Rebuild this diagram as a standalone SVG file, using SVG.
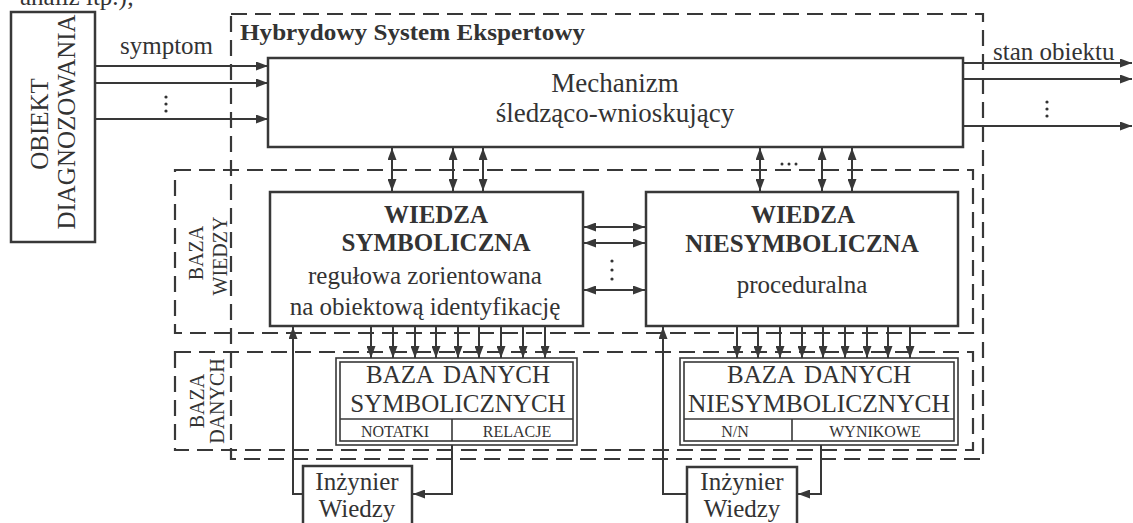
<svg xmlns="http://www.w3.org/2000/svg" width="1133" height="523" viewBox="0 0 1133 523">
<style>
text{font-family:"Liberation Serif","Times New Roman",serif;fill:#333}
.ln{stroke:#383838;stroke-width:2;fill:none}
.dash{stroke:#383838;stroke-width:2.2;fill:none;stroke-dasharray:16 8}
.box{fill:#fff;stroke:#383838;stroke-width:2.5}
.db{fill:none;stroke:#383838;stroke-width:1.6}
.dot{fill:#333}
.c{text-anchor:middle}
.t25{font-size:25px}
.b25{font-size:25px;font-weight:bold}
.s16{font-size:16px}
.r20{font-size:20px}
</style>
<defs>
<marker id="ah" viewBox="0 0 12 9" markerWidth="12" markerHeight="9" refX="12" refY="4.5" orient="auto-start-reverse" markerUnits="userSpaceOnUse">
<path d="M0,0 L12,4.5 L0,9 Z" fill="#383838"/>
</marker>
</defs>
<rect width="1133" height="523" fill="#fff"/>
<text x="20" y="5" class="t25">analiz itp.);</text>

<g id="containers">
<rect class="dash" x="231" y="14" width="752" height="445"/>
<rect class="dash" x="175" y="170" width="798" height="163"/>
<rect class="dash" x="175" y="352" width="798" height="98"/>
<text x="240" y="40" style="font-size:23px;font-weight:bold" textLength="345" lengthAdjust="spacingAndGlyphs">Hybrydowy System Ekspertowy</text>
<text class="r20 c" transform="translate(203,253) rotate(-90)">BAZA</text>
<text class="r20 c" transform="translate(227,256) rotate(-90)">WIEDZY</text>
<text class="r20 c" transform="translate(204,401) rotate(-90)">BAZA</text>
<text class="r20 c" transform="translate(224,401) rotate(-90)">DANYCH</text>
</g>

<g id="obiekt">
<rect class="box" x="11" y="12" width="84" height="230"/>
<text class="t25 c" transform="translate(48,124) rotate(-90)">OBIEKT</text>
<text class="t25 c" transform="translate(75,122) rotate(-90)">DIAGNOZOWANIA</text>
</g>

<g id="mechanizm">
<rect class="box" x="268" y="58" width="695" height="89"/>
<text x="615" y="92" class="c" style="font-size:27px">Mechanizm</text>
<text x="615" y="122" class="c" style="font-size:27px">śledząco-wnioskujący</text>
</g>

<g id="wiedza-symboliczna">
<rect class="box" x="270" y="192" width="313" height="134"/>
<text x="436" y="223" class="b25 c">WIEDZA</text>
<text x="436" y="251" class="b25 c">SYMBOLICZNA</text>
<text x="425" y="284" class="t25 c">regułowa zorientowana</text>
<text x="425" y="315" class="t25 c">na obiektową identyfikację</text>
</g>

<g id="wiedza-niesymboliczna">
<rect class="box" x="646" y="192" width="312" height="134"/>
<text x="803" y="223" class="b25 c">WIEDZA</text>
<text x="802" y="252" class="b25 c">NIESYMBOLICZNA</text>
<text x="802" y="293" class="t25 c">proceduralna</text>
</g>

<g id="baza-danych-symbolicznych">
<rect x="336" y="358" width="241" height="87" fill="#fff" stroke="#383838" stroke-width="1.6"/>
<rect class="db" x="340" y="362" width="233" height="79"/>
<line class="db" x1="340" y1="419" x2="573" y2="419"/>
<line class="db" x1="452" y1="419" x2="452" y2="441"/>
<text x="458" y="383" class="t25 c" style="word-spacing:4px">BAZA DANYCH</text>
<text x="458" y="412" class="t25 c">SYMBOLICZNYCH</text>
<text x="395" y="437" class="s16 c">NOTATKI</text>
<text x="517" y="437" class="s16 c">RELACJE</text>
</g>

<g id="baza-danych-niesymbolicznych">
<rect x="680" y="358" width="278" height="87" fill="#fff" stroke="#383838" stroke-width="1.6"/>
<rect class="db" x="684" y="362" width="270" height="79"/>
<line class="db" x1="684" y1="419" x2="954" y2="419"/>
<line class="db" x1="792" y1="419" x2="792" y2="441"/>
<text x="819" y="383" class="t25 c" style="word-spacing:4px">BAZA DANYCH</text>
<text x="819" y="412" class="c" style="font-size:25.5px">NIESYMBOLICZNYCH</text>
<text x="735" y="437" class="s16 c">N/N</text>
<text x="875" y="437" class="s16 c">WYNIKOWE</text>
</g>

<g id="inzynier-1">
<rect class="box" x="303" y="466" width="109" height="70"/>
<text x="357" y="490" class="t25 c">Inżynier</text>
<text x="357" y="517" class="t25 c">Wiedzy</text>
</g>

<g id="inzynier-2">
<rect class="box" x="687" y="467" width="110" height="70"/>
<text x="742" y="490" class="t25 c">Inżynier</text>
<text x="742" y="517" class="t25 c">Wiedzy</text>
</g>

<g id="connectors">
<line class="ln" x1="95" y1="66" x2="268" y2="66" marker-end="url(#ah)"/>
<line class="ln" x1="95" y1="83" x2="268" y2="83" marker-end="url(#ah)"/>
<line class="ln" x1="95" y1="119" x2="268" y2="119" marker-end="url(#ah)"/>
<text x="120" y="54" class="t25">symptom</text>
<circle class="dot" cx="166" cy="97" r="1.6"/>
<circle class="dot" cx="166" cy="104" r="1.6"/>
<circle class="dot" cx="166" cy="111" r="1.6"/>

<line class="ln" x1="963" y1="63" x2="1132" y2="63" marker-end="url(#ah)"/>
<line class="ln" x1="963" y1="79" x2="1132" y2="79" marker-end="url(#ah)"/>
<line class="ln" x1="963" y1="126" x2="1132" y2="126" marker-end="url(#ah)"/>
<text x="993" y="60" class="t25">stan obiektu</text>
<circle class="dot" cx="1047" cy="102" r="1.6"/>
<circle class="dot" cx="1047" cy="109" r="1.6"/>
<circle class="dot" cx="1047" cy="116" r="1.6"/>

<line class="ln" x1="392" y1="148" x2="392" y2="191" marker-start="url(#ah)" marker-end="url(#ah)"/>
<line class="ln" x1="453" y1="148" x2="453" y2="191" marker-start="url(#ah)" marker-end="url(#ah)"/>
<line class="ln" x1="483" y1="148" x2="483" y2="191" marker-start="url(#ah)" marker-end="url(#ah)"/>
<line class="ln" x1="760" y1="148" x2="760" y2="191" marker-start="url(#ah)" marker-end="url(#ah)"/>
<line class="ln" x1="822" y1="148" x2="822" y2="191" marker-start="url(#ah)" marker-end="url(#ah)"/>
<line class="ln" x1="852" y1="148" x2="852" y2="191" marker-start="url(#ah)" marker-end="url(#ah)"/>
<circle class="dot" cx="782" cy="164" r="1.5"/>
<circle class="dot" cx="789" cy="164" r="1.5"/>
<circle class="dot" cx="796" cy="164" r="1.5"/>

<line class="ln" x1="584" y1="227" x2="645" y2="227" marker-start="url(#ah)" marker-end="url(#ah)"/>
<line class="ln" x1="584" y1="243" x2="645" y2="243" marker-start="url(#ah)" marker-end="url(#ah)"/>
<line class="ln" x1="584" y1="290" x2="645" y2="290" marker-start="url(#ah)" marker-end="url(#ah)"/>
<circle class="dot" cx="612" cy="261" r="1.6"/>
<circle class="dot" cx="612" cy="270" r="1.6"/>
<circle class="dot" cx="612" cy="279" r="1.6"/>

<line class="ln" x1="371" y1="327" x2="371" y2="358" marker-end="url(#ah)"/>
<line class="ln" x1="393" y1="327" x2="393" y2="358" marker-end="url(#ah)"/>
<line class="ln" x1="415" y1="327" x2="415" y2="358" marker-end="url(#ah)"/>
<line class="ln" x1="436" y1="327" x2="436" y2="358" marker-end="url(#ah)"/>
<line class="ln" x1="458" y1="327" x2="458" y2="358" marker-end="url(#ah)"/>
<line class="ln" x1="479" y1="327" x2="479" y2="358" marker-end="url(#ah)"/>
<line class="ln" x1="501" y1="327" x2="501" y2="358" marker-end="url(#ah)"/>
<line class="ln" x1="523" y1="327" x2="523" y2="358" marker-end="url(#ah)"/>
<line class="ln" x1="545" y1="327" x2="545" y2="358" marker-end="url(#ah)"/>

<line class="ln" x1="737" y1="327" x2="737" y2="358" marker-end="url(#ah)"/>
<line class="ln" x1="758" y1="327" x2="758" y2="358" marker-end="url(#ah)"/>
<line class="ln" x1="780" y1="327" x2="780" y2="358" marker-end="url(#ah)"/>
<line class="ln" x1="802" y1="327" x2="802" y2="358" marker-end="url(#ah)"/>
<line class="ln" x1="823" y1="327" x2="823" y2="358" marker-end="url(#ah)"/>
<line class="ln" x1="845" y1="327" x2="845" y2="358" marker-end="url(#ah)"/>
<line class="ln" x1="867" y1="327" x2="867" y2="358" marker-end="url(#ah)"/>
<line class="ln" x1="888" y1="327" x2="888" y2="358" marker-end="url(#ah)"/>
<line class="ln" x1="910" y1="327" x2="910" y2="358" marker-end="url(#ah)"/>

<polyline class="ln" points="303,494 293,494 293,327" marker-end="url(#ah)"/>
<polyline class="ln" points="452,445 452,494 413,494" marker-end="url(#ah)"/>
<polyline class="ln" points="687,494 663,494 663,327" marker-end="url(#ah)"/>
<polyline class="ln" points="821,445 821,494 798,494" marker-end="url(#ah)"/>
</g>
</svg>
